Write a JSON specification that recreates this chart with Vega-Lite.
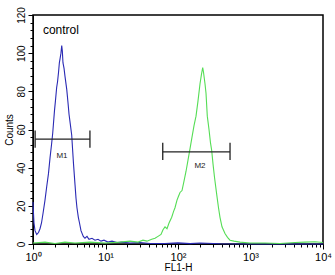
{
  "$schema": "https://vega.github.io/schema/vega-lite/v6.json",
  "width": 290,
  "height": 229,
  "autosize": {"type": "none"},
  "padding": {"left": 33, "top": 15, "right": 12, "bottom": 31},
  "background": "white",
  "config": {
    "font": "Liberation Sans",
    "view": {"stroke": "black", "strokeWidth": 1.5},
    "axis": {"grid": false, "domainColor": "black", "tickColor": "black", "labelColor": "black", "titleColor": "black", "labelFont": "Liberation Sans", "titleFont": "Liberation Sans", "titleFontWeight": "normal"}
  },
  "datasets": {
    "hist": [
      {"x": 1.0, "count": 22, "s": "control"},
      {"x": 1.016, "count": 16, "s": "control"},
      {"x": 1.032, "count": 11, "s": "control"},
      {"x": 1.066, "count": 7, "s": "control"},
      {"x": 1.125, "count": 5, "s": "control"},
      {"x": 1.191, "count": 6, "s": "control"},
      {"x": 1.249, "count": 8, "s": "control"},
      {"x": 1.31, "count": 11, "s": "control"},
      {"x": 1.374, "count": 16, "s": "control"},
      {"x": 1.464, "count": 23, "s": "control"},
      {"x": 1.545, "count": 30, "s": "control"},
      {"x": 1.636, "count": 37, "s": "control"},
      {"x": 1.716, "count": 45, "s": "control"},
      {"x": 1.8, "count": 52, "s": "control"},
      {"x": 1.87, "count": 58, "s": "control"},
      {"x": 1.98, "count": 70, "s": "control"},
      {"x": 2.04, "count": 75, "s": "control"},
      {"x": 2.12, "count": 82, "s": "control"},
      {"x": 2.18, "count": 85, "s": "control"},
      {"x": 2.25, "count": 90, "s": "control"},
      {"x": 2.31, "count": 95, "s": "control"},
      {"x": 2.36, "count": 97, "s": "control"},
      {"x": 2.43, "count": 100, "s": "control"},
      {"x": 2.49, "count": 104, "s": "control"},
      {"x": 2.54, "count": 101, "s": "control"},
      {"x": 2.59, "count": 95, "s": "control"},
      {"x": 2.68, "count": 92, "s": "control"},
      {"x": 2.76, "count": 88, "s": "control"},
      {"x": 2.92, "count": 81, "s": "control"},
      {"x": 3.04, "count": 74, "s": "control"},
      {"x": 3.14, "count": 68, "s": "control"},
      {"x": 3.29, "count": 62, "s": "control"},
      {"x": 3.42, "count": 57, "s": "control"},
      {"x": 3.51, "count": 50, "s": "control"},
      {"x": 3.62, "count": 42, "s": "control"},
      {"x": 3.8, "count": 31, "s": "control"},
      {"x": 3.92, "count": 24, "s": "control"},
      {"x": 4.04, "count": 19, "s": "control"},
      {"x": 4.22, "count": 14, "s": "control"},
      {"x": 4.38, "count": 11, "s": "control"},
      {"x": 4.59, "count": 7, "s": "control"},
      {"x": 4.94, "count": 4, "s": "control"},
      {"x": 5.21, "count": 3, "s": "control"},
      {"x": 5.56, "count": 4, "s": "control"},
      {"x": 5.92, "count": 2.5, "s": "control"},
      {"x": 6.51, "count": 3, "s": "control"},
      {"x": 7.16, "count": 2, "s": "control"},
      {"x": 7.88, "count": 2.5, "s": "control"},
      {"x": 8.67, "count": 1.5, "s": "control"},
      {"x": 9.53, "count": 2, "s": "control"},
      {"x": 10.8, "count": 1, "s": "control"},
      {"x": 12.3, "count": 1.5, "s": "control"},
      {"x": 14.4, "count": 0.8, "s": "control"},
      {"x": 16.9, "count": 1, "s": "control"},
      {"x": 21.8, "count": 0.5, "s": "control"},
      {"x": 29.9, "count": 0.8, "s": "control"},
      {"x": 41.1, "count": 0.3, "s": "control"},
      {"x": 66.2, "count": 0.3, "s": "control"},
      {"x": 100, "count": 0.6, "s": "control"},
      {"x": 146.5, "count": 0.2, "s": "control"},
      {"x": 201, "count": 0.5, "s": "control"},
      {"x": 379, "count": 0.1, "s": "control"},
      {"x": 1352, "count": 0, "s": "control"},
      {"x": 10000, "count": 0, "s": "control"},
      {"x": 1.0, "count": 0.5, "s": "sample"},
      {"x": 1.464, "count": 1, "s": "sample"},
      {"x": 2.01, "count": 0.3, "s": "sample"},
      {"x": 2.76, "count": 1, "s": "sample"},
      {"x": 3.8, "count": 0.5, "s": "sample"},
      {"x": 6.11, "count": 1, "s": "sample"},
      {"x": 9.84, "count": 0.5, "s": "sample"},
      {"x": 15.8, "count": 1, "s": "sample"},
      {"x": 21.8, "count": 1.5, "s": "sample"},
      {"x": 28.1, "count": 1, "s": "sample"},
      {"x": 32.9, "count": 2, "s": "sample"},
      {"x": 37.3, "count": 1.5, "s": "sample"},
      {"x": 43.4, "count": 2.5, "s": "sample"},
      {"x": 48.2, "count": 3, "s": "sample"},
      {"x": 53.0, "count": 4, "s": "sample"},
      {"x": 58.3, "count": 5, "s": "sample"},
      {"x": 62.1, "count": 7.5, "s": "sample"},
      {"x": 66.2, "count": 9, "s": "sample"},
      {"x": 70.5, "count": 8, "s": "sample"},
      {"x": 75.2, "count": 11, "s": "sample"},
      {"x": 81.9, "count": 14, "s": "sample"},
      {"x": 86.7, "count": 17, "s": "sample"},
      {"x": 90.9, "count": 19, "s": "sample"},
      {"x": 96.9, "count": 23, "s": "sample"},
      {"x": 101.6, "count": 25, "s": "sample"},
      {"x": 106.6, "count": 27, "s": "sample"},
      {"x": 113.6, "count": 28, "s": "sample"},
      {"x": 121, "count": 33, "s": "sample"},
      {"x": 128.9, "count": 38, "s": "sample"},
      {"x": 137.4, "count": 44, "s": "sample"},
      {"x": 146.5, "count": 50, "s": "sample"},
      {"x": 156, "count": 56, "s": "sample"},
      {"x": 166.3, "count": 62, "s": "sample"},
      {"x": 177.2, "count": 67, "s": "sample"},
      {"x": 188.8, "count": 75, "s": "sample"},
      {"x": 201.2, "count": 84, "s": "sample"},
      {"x": 210.9, "count": 89, "s": "sample"},
      {"x": 219.2, "count": 92.5, "s": "sample"},
      {"x": 224.8, "count": 90, "s": "sample"},
      {"x": 235.7, "count": 84, "s": "sample"},
      {"x": 243.4, "count": 79, "s": "sample"},
      {"x": 253.6, "count": 67, "s": "sample"},
      {"x": 267.7, "count": 60, "s": "sample"},
      {"x": 280.7, "count": 53, "s": "sample"},
      {"x": 291.6, "count": 49, "s": "sample"},
      {"x": 304, "count": 42, "s": "sample"},
      {"x": 318.7, "count": 35, "s": "sample"},
      {"x": 341.8, "count": 26, "s": "sample"},
      {"x": 362, "count": 19, "s": "sample"},
      {"x": 379.5, "count": 14, "s": "sample"},
      {"x": 404.4, "count": 9, "s": "sample"},
      {"x": 444.8, "count": 5.5, "s": "sample"},
      {"x": 481.6, "count": 3.5, "s": "sample"},
      {"x": 521.6, "count": 2, "s": "sample"},
      {"x": 592, "count": 1.5, "s": "sample"},
      {"x": 716.6, "count": 1, "s": "sample"},
      {"x": 984, "count": 0.5, "s": "sample"},
      {"x": 1585, "count": 0.5, "s": "sample"},
      {"x": 2553, "count": 0.3, "s": "sample"},
      {"x": 4109, "count": 0.8, "s": "sample"},
      {"x": 5646, "count": 1, "s": "sample"},
      {"x": 7760, "count": 1.2, "s": "sample"},
      {"x": 10000, "count": 0.8, "s": "sample"}
    ],
    "markers": [
      {"name": "M1", "x1": 1.07, "x2": 6.1, "y": 55, "lo": 50.5, "hi": 59.5, "lx": 2.51, "ly": 46},
      {"name": "M2", "x1": 61.6, "x2": 522, "y": 48.3, "lo": 44, "hi": 53, "lx": 201, "ly": 41}
    ],
    "notes": [
      {"text": "control", "x": 1.37, "y": 112}
    ]
  },
  "resolve": {"axis": {"x": "independent", "y": "independent"}},
  "layer": [
    {
      "data": {"name": "hist"},
      "mark": {"type": "line", "strokeWidth": 1.1},
      "encoding": {
        "x": {"field": "x", "type": "quantitative",
              "scale": {"type": "log", "domain": [1, 10000], "nice": false},
              "axis": {"values": [1, 10, 100, 1000, 10000], "labelExpr": "'10' + ['⁰','¹','²','³','⁴'][round(log(datum.value)/LN10)]", "labelFontSize": 11, "tickSize": 5, "labelPadding": 2, "title": "FL1-H", "titleFontSize": 10, "titlePadding": 0, "labelFlush": false}},
        "y": {"field": "count", "type": "quantitative",
              "scale": {"domain": [0, 120], "nice": false},
              "axis": {"values": [0, 20, 40, 60, 80, 100, 120], "labelAngle": 270, "labelAlign": "center", "labelBaseline": "bottom", "labelFontSize": 10, "tickSize": 5, "labelPadding": 2, "title": "Counts", "titleFontSize": 10, "titlePadding": 2}},
        "color": {"field": "s", "type": "nominal", "scale": {"domain": ["control", "sample"], "range": ["#2a2ab4", "#55dd55"]}, "legend": null}
      }
    },
    {
      "data": {"name": "markers"},
      "mark": {"type": "rule", "color": "#222222", "strokeWidth": 1.3},
      "encoding": {
        "x": {"field": "x1", "type": "quantitative",
              "axis": {"orient": "bottom", "values": [2,3,4,5,6,7,8,9,20,30,40,50,60,70,80,90,200,300,400,500,600,700,800,900,2000,3000,4000,5000,6000,7000,8000,9000], "labels": false, "domain": false, "tickSize": 3, "title": null}},
        "x2": {"field": "x2"},
        "y": {"field": "y", "type": "quantitative",
              "axis": {"orient": "left", "values": [4,8,12,16,24,28,32,36,44,48,52,56,64,68,72,76,84,88,92,96,104,108,112,116], "labels": false, "domain": false, "tickSize": 3, "title": null}}
      }
    },
    {
      "data": {"name": "markers"},
      "mark": {"type": "rule", "color": "#222222", "strokeWidth": 1.3},
      "encoding": {
        "x": {"field": "x1", "type": "quantitative", "axis": null},
        "y": {"field": "lo", "type": "quantitative", "axis": null},
        "y2": {"field": "hi"}
      }
    },
    {
      "data": {"name": "markers"},
      "mark": {"type": "rule", "color": "#222222", "strokeWidth": 1.3},
      "encoding": {
        "x": {"field": "x2", "type": "quantitative", "axis": null},
        "y": {"field": "lo", "type": "quantitative", "axis": null},
        "y2": {"field": "hi"}
      }
    },
    {
      "data": {"name": "markers"},
      "mark": {"type": "text", "fontSize": 8, "color": "#222222", "align": "center", "baseline": "middle"},
      "encoding": {
        "x": {"field": "lx", "type": "quantitative", "axis": null},
        "y": {"field": "ly", "type": "quantitative", "axis": null},
        "text": {"field": "name"}
      }
    },
    {
      "data": {"name": "notes"},
      "mark": {"type": "text", "fontSize": 12, "color": "black", "align": "left", "baseline": "middle"},
      "encoding": {
        "x": {"field": "x", "type": "quantitative", "axis": null},
        "y": {"field": "y", "type": "quantitative", "axis": null},
        "text": {"field": "text"}
      }
    }
  ]
}
